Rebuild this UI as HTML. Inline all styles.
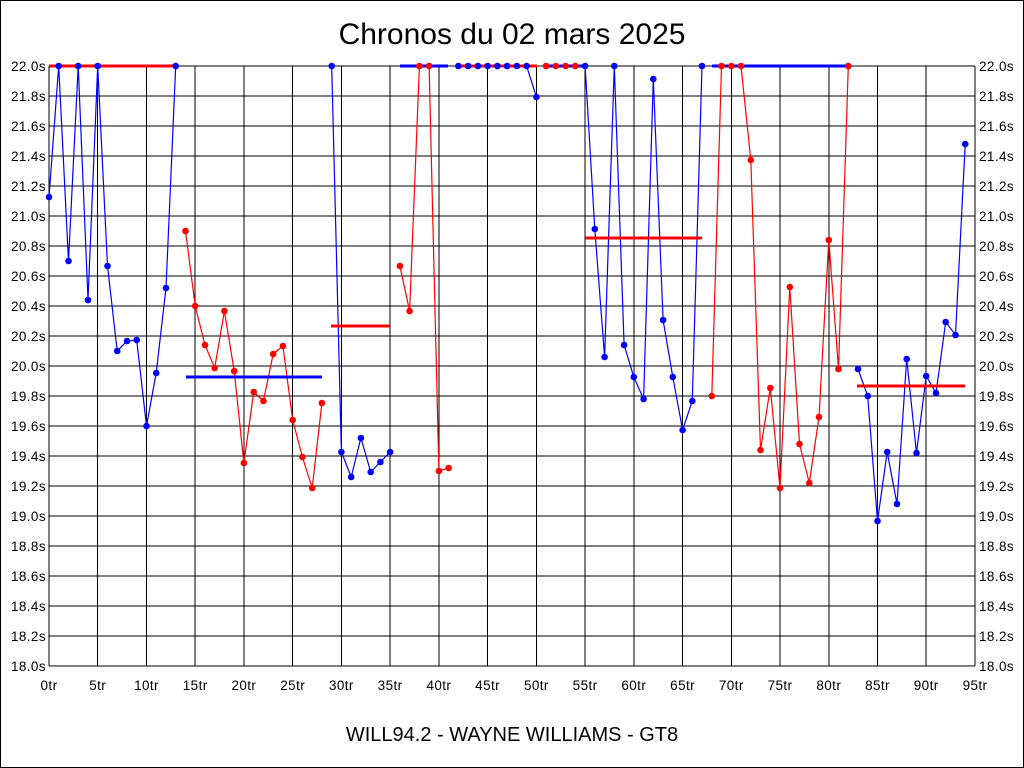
<!DOCTYPE html>
<html><head><meta charset="utf-8"><style>html,body{margin:0;padding:0;background:#fff}svg{display:block}</style></head>
<body>
<svg width="1024" height="768" viewBox="0 0 1024 768" xmlns="http://www.w3.org/2000/svg" font-family="Liberation Sans, Arial, sans-serif">
<rect x="0.5" y="0.5" width="1023" height="767" fill="#fff" stroke="#000"/>
<text x="512" y="44" font-size="30" text-anchor="middle">Chronos du 02 mars 2025</text>
<text x="512" y="741" font-size="20" text-anchor="middle">WILL94.2 - WAYNE WILLIAMS - GT8</text>
<g stroke="#000" stroke-width="1" shape-rendering="crispEdges">
<path d="M49 66H975M49 96H975M49 126H975M49 156H975M49 186H975M49 216H975M49 246H975M49 276H975M49 306H975M49 336H975M49 366H975M49 396H975M49 426H975M49 456H975M49 486H975M49 516H975M49 546H975M49 576H975M49 606H975M49 636H975M49 666H975"/>
<path d="M49 66V666M97.7 66V666M146.5 66V666M195.2 66V666M243.9 66V666M292.7 66V666M341.4 66V666M390.1 66V666M438.9 66V666M487.6 66V666M536.4 66V666M585.1 66V666M633.8 66V666M682.6 66V666M731.3 66V666M780 66V666M828.8 66V666M877.5 66V666M926.2 66V666M975 66V666"/>
</g>
<g font-size="13.5" fill="#000" letter-spacing="0.4">
<g text-anchor="end">
<text x="46" y="71">22.0s</text><text x="46" y="101">21.8s</text><text x="46" y="131">21.6s</text><text x="46" y="161">21.4s</text><text x="46" y="191">21.2s</text><text x="46" y="221">21.0s</text><text x="46" y="251">20.8s</text><text x="46" y="281">20.6s</text><text x="46" y="311">20.4s</text><text x="46" y="341">20.2s</text><text x="46" y="371">20.0s</text><text x="46" y="401">19.8s</text><text x="46" y="431">19.6s</text><text x="46" y="461">19.4s</text><text x="46" y="491">19.2s</text><text x="46" y="521">19.0s</text><text x="46" y="551">18.8s</text><text x="46" y="581">18.6s</text><text x="46" y="611">18.4s</text><text x="46" y="641">18.2s</text><text x="46" y="671">18.0s</text>
</g>
<g text-anchor="start">
<text x="979" y="71">22.0s</text><text x="979" y="101">21.8s</text><text x="979" y="131">21.6s</text><text x="979" y="161">21.4s</text><text x="979" y="191">21.2s</text><text x="979" y="221">21.0s</text><text x="979" y="251">20.8s</text><text x="979" y="281">20.6s</text><text x="979" y="311">20.4s</text><text x="979" y="341">20.2s</text><text x="979" y="371">20.0s</text><text x="979" y="401">19.8s</text><text x="979" y="431">19.6s</text><text x="979" y="461">19.4s</text><text x="979" y="491">19.2s</text><text x="979" y="521">19.0s</text><text x="979" y="551">18.8s</text><text x="979" y="581">18.6s</text><text x="979" y="611">18.4s</text><text x="979" y="641">18.2s</text><text x="979" y="671">18.0s</text>
</g>
<g text-anchor="middle">
<text x="49" y="690">0tr</text><text x="97.7" y="690">5tr</text><text x="146.5" y="690">10tr</text><text x="195.2" y="690">15tr</text><text x="243.9" y="690">20tr</text><text x="292.7" y="690">25tr</text><text x="341.4" y="690">30tr</text><text x="390.1" y="690">35tr</text><text x="438.9" y="690">40tr</text><text x="487.6" y="690">45tr</text><text x="536.4" y="690">50tr</text><text x="585.1" y="690">55tr</text><text x="633.8" y="690">60tr</text><text x="682.6" y="690">65tr</text><text x="731.3" y="690">70tr</text><text x="780" y="690">75tr</text><text x="828.8" y="690">80tr</text><text x="877.5" y="690">85tr</text><text x="926.2" y="690">90tr</text><text x="975" y="690">95tr</text>
</g>
</g>
<g fill="none" stroke-width="1.2">
<polyline stroke="#00f" points="49,197 58.7,66 68.5,261 78.2,66 88,300 97.7,66 107.5,266 117.2,351 127,341 136.7,340 146.5,426 156.2,373 166,288 175.7,66"/>
<polyline stroke="#f00" points="185.5,231 195.2,306 205,345 214.7,368 224.4,311 234.2,371 243.9,463 253.7,392 263.4,401 273.2,354 282.9,346 292.7,420 302.4,457 312.2,488 321.9,403"/>
<polyline stroke="#00f" points="331.7,66 341.4,452 351.2,477 360.9,438 370.7,472 380.4,462 390.1,452"/>
<polyline stroke="#f00" points="399.9,266 409.6,311 419.4,66 429.1,66 438.9,471 448.6,468"/>
<polyline stroke="#00f" points="458.4,66 526.6,66 536.4,97"/>
<polyline stroke="#f00" points="546.1,66 575.3,66"/>
<polyline stroke="#00f" points="585.1,66 594.8,229 604.6,357 614.3,66 624.1,345 633.8,377 643.6,399 653.3,79 663.1,320 672.8,377 682.6,430 692.3,401 702,66"/>
<polyline stroke="#f00" points="711.8,396 721.5,66 731.3,66 741,66 750.8,160 760.5,450 770.3,388 780,488 789.8,287 799.5,444 809.3,483 819,417 828.8,240 838.5,369 848.3,66"/>
<polyline stroke="#00f" points="858,369 867.7,396 877.5,521 887.2,452 897,504 906.7,359 916.5,453 926.2,376 936,393 945.7,322 955.5,335 965.2,144"/>
</g>
<g stroke-width="3" shape-rendering="crispEdges">
<path stroke="#f00" d="M49 66H176"/>
<path stroke="#00f" d="M186 377H322"/>
<path stroke="#f00" d="M331 326H390"/>
<path stroke="#00f" d="M400 66H448"/>
<path stroke="#f00" d="M458 66H537"/>
<path stroke="#00f" d="M545 66H585"/>
<path stroke="#f00" d="M585 238H702"/>
<path stroke="#00f" d="M712 66H848"/>
<path stroke="#f00" d="M857 386H965"/>
</g>
<g fill="#00f">
<circle cx="49" cy="197" r="3.3"/><circle cx="58.7" cy="66" r="3.3"/><circle cx="68.5" cy="261" r="3.3"/><circle cx="78.2" cy="66" r="3.3"/><circle cx="88" cy="300" r="3.3"/><circle cx="97.7" cy="66" r="3.3"/><circle cx="107.5" cy="266" r="3.3"/><circle cx="117.2" cy="351" r="3.3"/><circle cx="127" cy="341" r="3.3"/><circle cx="136.7" cy="340" r="3.3"/><circle cx="146.5" cy="426" r="3.3"/><circle cx="156.2" cy="373" r="3.3"/><circle cx="166" cy="288" r="3.3"/><circle cx="175.7" cy="66" r="3.3"/>
<circle cx="331.7" cy="66" r="3.3"/><circle cx="341.4" cy="452" r="3.3"/><circle cx="351.2" cy="477" r="3.3"/><circle cx="360.9" cy="438" r="3.3"/><circle cx="370.7" cy="472" r="3.3"/><circle cx="380.4" cy="462" r="3.3"/><circle cx="390.1" cy="452" r="3.3"/>
<circle cx="458.4" cy="66" r="3.3"/><circle cx="468.1" cy="66" r="3.3"/><circle cx="477.9" cy="66" r="3.3"/><circle cx="487.6" cy="66" r="3.3"/><circle cx="497.4" cy="66" r="3.3"/><circle cx="507.1" cy="66" r="3.3"/><circle cx="516.9" cy="66" r="3.3"/><circle cx="526.6" cy="66" r="3.3"/><circle cx="536.4" cy="97" r="3.3"/>
<circle cx="585.1" cy="66" r="3.3"/><circle cx="594.8" cy="229" r="3.3"/><circle cx="604.6" cy="357" r="3.3"/><circle cx="614.3" cy="66" r="3.3"/><circle cx="624.1" cy="345" r="3.3"/><circle cx="633.8" cy="377" r="3.3"/><circle cx="643.6" cy="399" r="3.3"/><circle cx="653.3" cy="79" r="3.3"/><circle cx="663.1" cy="320" r="3.3"/><circle cx="672.8" cy="377" r="3.3"/><circle cx="682.6" cy="430" r="3.3"/><circle cx="692.3" cy="401" r="3.3"/><circle cx="702" cy="66" r="3.3"/>
<circle cx="858" cy="369" r="3.3"/><circle cx="867.7" cy="396" r="3.3"/><circle cx="877.5" cy="521" r="3.3"/><circle cx="887.2" cy="452" r="3.3"/><circle cx="897" cy="504" r="3.3"/><circle cx="906.7" cy="359" r="3.3"/><circle cx="916.5" cy="453" r="3.3"/><circle cx="926.2" cy="376" r="3.3"/><circle cx="936" cy="393" r="3.3"/><circle cx="945.7" cy="322" r="3.3"/><circle cx="955.5" cy="335" r="3.3"/><circle cx="965.2" cy="144" r="3.3"/>
</g>
<g fill="#f00">
<circle cx="185.5" cy="231" r="3.3"/><circle cx="195.2" cy="306" r="3.3"/><circle cx="205" cy="345" r="3.3"/><circle cx="214.7" cy="368" r="3.3"/><circle cx="224.4" cy="311" r="3.3"/><circle cx="234.2" cy="371" r="3.3"/><circle cx="243.9" cy="463" r="3.3"/><circle cx="253.7" cy="392" r="3.3"/><circle cx="263.4" cy="401" r="3.3"/><circle cx="273.2" cy="354" r="3.3"/><circle cx="282.9" cy="346" r="3.3"/><circle cx="292.7" cy="420" r="3.3"/><circle cx="302.4" cy="457" r="3.3"/><circle cx="312.2" cy="488" r="3.3"/><circle cx="321.9" cy="403" r="3.3"/>
<circle cx="399.9" cy="266" r="3.3"/><circle cx="409.6" cy="311" r="3.3"/><circle cx="419.4" cy="66" r="3.3"/><circle cx="429.1" cy="66" r="3.3"/><circle cx="438.9" cy="471" r="3.3"/><circle cx="448.6" cy="468" r="3.3"/>
<circle cx="546.1" cy="66" r="3.3"/><circle cx="555.8" cy="66" r="3.3"/><circle cx="565.6" cy="66" r="3.3"/><circle cx="575.3" cy="66" r="3.3"/>
<circle cx="711.8" cy="396" r="3.3"/><circle cx="721.5" cy="66" r="3.3"/><circle cx="731.3" cy="66" r="3.3"/><circle cx="741" cy="66" r="3.3"/><circle cx="750.8" cy="160" r="3.3"/><circle cx="760.5" cy="450" r="3.3"/><circle cx="770.3" cy="388" r="3.3"/><circle cx="780" cy="488" r="3.3"/><circle cx="789.8" cy="287" r="3.3"/><circle cx="799.5" cy="444" r="3.3"/><circle cx="809.3" cy="483" r="3.3"/><circle cx="819" cy="417" r="3.3"/><circle cx="828.8" cy="240" r="3.3"/><circle cx="838.5" cy="369" r="3.3"/><circle cx="848.3" cy="66" r="3.3"/>
</g>
</svg>
</body></html>
